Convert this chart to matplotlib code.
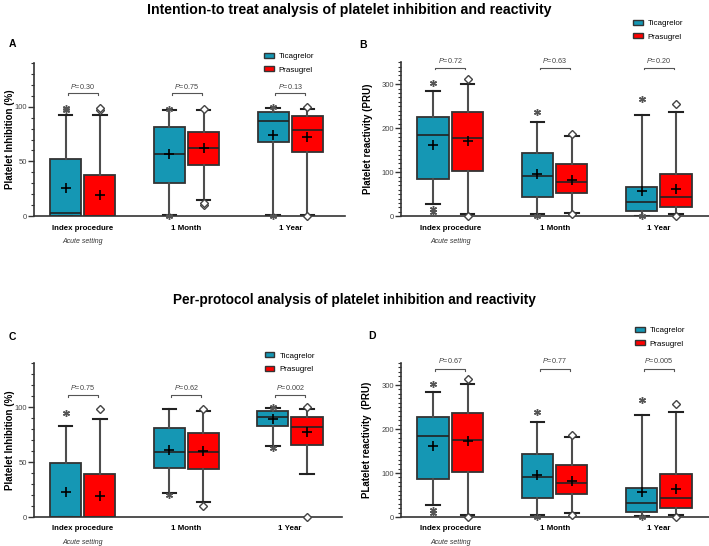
import numpy as np
import matplotlib.pyplot as plt
from matplotlib.patches import Patch

plt.rcParams['font.family'] = ['Liberation Sans', 'DejaVu Sans']
plt.rcParams['mathtext.fontset'] = 'custom'
plt.rcParams['mathtext.rm'] = 'Liberation Sans'
plt.rcParams['mathtext.it'] = 'Liberation Sans:italic'

groups = ['Index procedure', '1 Month', '1 Year']
drugs = ['Ticagrelor', 'Prasugrel']
colors = ['#1597b4', '#ff0000']

# box statistics, one value per time point
# A: intention-to-treat, platelet inhibition (%)
a_tica = dict(q1=[0, 30.5, 68], med=[2.5, 57, 87], q3=[52, 81, 95.5],
              lo=[0, 1.5, 1.5], hi=[92, 97, 99], mean=[26, 56.5, 74.5])
a_pras = dict(q1=[0, 46.5, 59], med=[0, 62.5, 79], q3=[38, 77, 91],
              lo=[0, 15, 1], hi=[92, 96.5, 97.5], mean=[19.5, 62, 72])
a_tica_out = [[97, 99], [98, 0], [100, 0]]
a_pras_out = [[97, 99], [98, 10, 12], [100, 0]]
a_p = ['0.30', '0.75', '0.13']

# B: intention-to-treat, platelet reactivity (PRU)
b_tica = dict(q1=[85, 44, 11], med=[184, 91, 32], q3=[226, 143.5, 66],
              lo=[27, 5, 1.5], hi=[284, 214.5, 230.5], mean=[162.5, 96, 58])
b_pras = dict(q1=[103, 53, 21], med=[177, 77, 44], q3=[236, 118, 96],
              lo=[4, 7.5, 5], hi=[301, 182, 238], mean=[172, 82, 63])
b_tica_out = [[302, 16, 9], [238, 0], [266, 1]]
b_pras_out = [[313, 1], [186, 5], [255, 1]]
b_p = ['0.72', '0.63', '0.20']

# C: per-protocol, platelet inhibition (%)
c_tica = dict(q1=[0, 44.5, 83], med=[0, 59, 91], q3=[49.5, 81, 96.5],
              lo=[0, 22, 65], hi=[83, 98, 99.5], mean=[22.5, 61, 89.5])
c_pras = dict(q1=[0, 44, 65.5], med=[0, 59.5, 82], q3=[39, 76, 91],
              lo=[0, 14, 39], hi=[89, 96, 98], mean=[19.5, 60, 77])
c_tica_out = [[95], [20], [100, 63]]
c_pras_out = [[98], [98.5, 10], [100, 0]]
c_p = ['0.75', '0.62', '0.002']

# D: per-protocol, platelet reactivity (PRU)
d_tica = dict(q1=[85.5, 44, 12], med=[184.5, 91.5, 31], q3=[226.5, 144, 65.5],
              lo=[27, 4.5, 2], hi=[284, 215, 231], mean=[162.5, 96, 58])
d_pras = dict(q1=[103, 52.5, 21], med=[175.5, 77, 44], q3=[235.5, 118, 97],
              lo=[4, 8.5, 5], hi=[301.5, 182, 239], mean=[172.5, 83, 64])
d_tica_out = [[302, 16, 9], [238, 1], [267, 1]]
d_pras_out = [[314, 1], [186, 5], [256, 1]]
d_p = ['0.67', '0.77', '0.005']

fig = plt.figure(figsize=(7.09, 5.46), dpi=100)


def draw_panel(rect, tica, pras, tica_out, pras_out, pvals, ymax, ymajor,
               bar_y, text_y, ylabel, label_x, letter, letter_xy, leg_xy, xright):
    ax = fig.add_axes(rect)
    off = 0.165
    for j, (st, outs) in enumerate([(tica, tica_out), (pras, pras_out)]):
        stats = []
        for i in range(3):
            stats.append(dict(q1=st['q1'][i], med=st['med'][i], q3=st['q3'][i],
                              whislo=st['lo'][i], whishi=st['hi'][i],
                              mean=st['mean'][i], fliers=outs[i]))
        if j == 0:
            fp = dict(marker=(6, 2, 0), markersize=5, markeredgecolor='#555555',
                      markeredgewidth=1.0, linestyle='none')
        else:
            fp = dict(marker='D', markersize=4.5, markerfacecolor='white',
                      markeredgecolor='#444444', markeredgewidth=1.0, linestyle='none')
        pos = np.arange(3) + (off if j else -off)
        bp = ax.bxp(stats, positions=pos, widths=0.3, capwidths=0.13,
                    patch_artist=True, showmeans=True, manage_ticks=False,
                    boxprops=dict(facecolor=colors[j], edgecolor='#333333', linewidth=1.3),
                    medianprops=dict(color='#222222', linewidth=1.2),
                    whiskerprops=dict(color='#4d4d4d', linewidth=1.5),
                    capprops=dict(color='#222222', linewidth=1.5),
                    meanprops=dict(marker='+', markersize=7.5, markeredgecolor='black',
                                   markeredgewidth=1.2, linestyle='none'),
                    flierprops=fp)
        for k in bp['fliers'] + bp['means']:
            k.set_clip_on(False)
            k.set_zorder(5)

    # p-value brackets
    for i, p in enumerate(pvals):
        x1, x2 = i - off + 0.02, i + off - 0.02
        h = ymax * 0.012
        ax.plot([x1, x1, x2, x2], [bar_y - h, bar_y, bar_y, bar_y - h],
                color='#555555', lw=0.8, clip_on=False)
        ax.text(i, text_y, r'$P$=' + p, ha='center', va='center',
                fontsize=5.2, color='#444444', clip_on=False)

    ax.set_xlim(-0.47, xright)
    ax.set_ylim(0, ymax)
    ax.set_yticks(np.arange(0, ymax, ymajor))
    ax.set_yticks(np.arange(0, ymax + 0.1, 10), minor=True)
    ax.tick_params(axis='y', which='major', length=4, width=1, labelsize=5.5,
                   labelcolor='#444444', color='#333333', pad=1)
    ax.tick_params(axis='y', which='minor', length=2.2, width=0.8, color='#333333')
    ax.set_xticks(range(3))
    ax.set_xticklabels(groups, fontweight='bold', fontsize=5.7)
    ax.tick_params(axis='x', length=0, pad=6)
    ax.text(0, -0.165, 'Acute setting', transform=ax.get_xaxis_transform(),
            ha='center', va='center', fontsize=5, style='italic', color='#333333')
    for s in ['top', 'right']:
        ax.spines[s].set_visible(False)
    ax.spines['left'].set_color('#333333')
    ax.spines['bottom'].set_color('#333333')
    ax.spines['left'].set_linewidth(1.2)
    ax.spines['bottom'].set_linewidth(1.2)
    ax.set_ylabel(ylabel, fontweight='bold', fontsize=7)
    ax.yaxis.set_label_coords(label_x, 0.5)
    fig.text(letter_xy[0], letter_xy[1], letter, fontweight='bold', fontsize=7.5,
             ha='center', va='center')

    handles = [Patch(facecolor=colors[k], edgecolor='#333333', linewidth=1.0)
               for k in range(2)]
    ax.legend(handles, drugs, loc='upper left', bbox_to_anchor=leg_xy,
              frameon=False, fontsize=5.8, handlelength=1.2, handleheight=0.6,
              handletextpad=0.6, labelspacing=0.75, borderpad=0, borderaxespad=0)
    return ax


draw_panel([0.048, 0.604, 0.439, 0.281], a_tica, a_pras, a_tica_out, a_pras_out,
           a_p, 140, 50, 112, 118.5, 'Platelet Inhibition (%)', -0.061, 'A',
           (0.017, 1 - 44 / 546), (0.74, 1.065), 2.53)
draw_panel([0.566, 0.604, 0.434, 0.282], b_tica, b_pras, b_tica_out, b_pras_out,
           b_p, 350, 100, 338, 355, 'Platelet reactivity (PRU)', -0.091, 'B',
           (363 / 709, 1 - 45 / 546), (0.753, 1.275), 2.48)
draw_panel([0.048, 0.053, 0.434, 0.282], c_tica, c_pras, c_tica_out, c_pras_out,
           c_p, 140, 50, 111, 118, 'Platelet Inhibition (%)', -0.062, 'C',
           (0.017, 1 - 337 / 546), (0.75, 1.07), 2.5)
draw_panel([0.566, 0.053, 0.434, 0.282], d_tica, d_pras, d_tica_out, d_pras_out,
           d_p, 350, 100, 337, 356, 'PLatelet reactivity  (PRU)', -0.094, 'D',
           (372 / 709, 1 - 336 / 546), (0.76, 1.235), 2.48)

fig.text(349 / 709, 1 - 10 / 546, 'Intention-to treat analysis of platelet inhibition and reactivity',
         ha='center', va='center', fontsize=10.2, fontweight='bold')
fig.text(0.5, 1 - 300 / 546, 'Per-protocol analysis of platelet inhibition and reactivity',
         ha='center', va='center', fontsize=9.8, fontweight='bold')

fig.savefig('out.png', dpi=100)
